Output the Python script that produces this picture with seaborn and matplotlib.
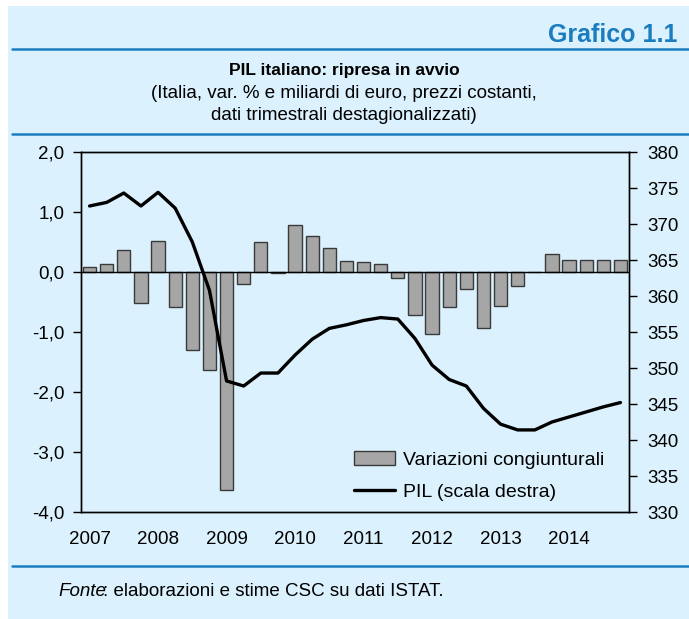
import numpy as np
import pandas as pd
import matplotlib
matplotlib.use('Agg')
import matplotlib.pyplot as plt
from matplotlib.ticker import FuncFormatter, MultipleLocator
from matplotlib.lines import Line2D
from matplotlib.patches import Rectangle
import seaborn as sns

# Dati trimestrali 2007-2014
anni = ['2007', '2008', '2009', '2010', '2011', '2012', '2013', '2014']
trimestri = [a + 'T' + str(q) for a in anni for q in (1, 2, 3, 4)]

# variazioni congiunturali (%)
var_cong = [0.08, 0.14, 0.36, -0.52,
            0.52, -0.58, -1.30, -1.64,
            -3.63, -0.20, 0.50, -0.02,
            0.78, 0.60, 0.40, 0.18,
            0.16, 0.14, -0.10, -0.72,
            -1.04, -0.58, -0.28, -0.94,
            -0.56, -0.24, 0.00, 0.30,
            0.20, 0.20, 0.20, 0.20]

# PIL, miliardi di euro (scala destra)
pil = [372.5, 373.0, 374.3, 372.5,
       374.4, 372.2, 367.5, 360.8,
       348.2, 347.5, 349.3, 349.3,
       351.8, 354.0, 355.5, 356.0,
       356.6, 357.0, 356.8, 354.1,
       350.4, 348.4, 347.5, 344.4,
       342.2, 341.4, 341.4, 342.5,
       343.2, 343.9, 344.6, 345.2]

df = pd.DataFrame({'trimestre': trimestri, 'var': var_cong, 'pil': pil})

sns.set_theme(style='white')
plt.rcParams['font.family'] = ['Liberation Sans', 'DejaVu Sans']
plt.rcParams['text.color'] = 'black'

bg = '#dbf1fd'
blu = '#1b7cc0'
W, H = 689, 619
fs = 13.5

fig = plt.figure(figsize=(W / 100, H / 100), dpi=100)
fig.patch.set_facecolor('white')
fig.patches.append(Rectangle((8 / W, 0), 1, 1 - 6 / H, transform=fig.transFigure,
                             facecolor=bg, edgecolor='none', zorder=-5))

# linee blu di separazione
for yy in (49, 134, 566):
    fig.add_artist(Line2D([12 / W, 1], [1 - yy / H, 1 - yy / H], transform=fig.transFigure,
                          color=blu, lw=1.8))

fig.text(678 / W, 1 - 35 / H, 'Grafico 1.1', ha='right', va='center',
         fontsize=18, fontweight='bold', color=blu)
fig.text(344 / W, 1 - 71 / H, 'PIL italiano: ripresa in avvio', ha='center', va='center',
         fontsize=12.5, fontweight='bold', color='black')
fig.text(344 / W, 1 - 94 / H, '(Italia, var. % e miliardi di euro, prezzi costanti,',
         ha='center', va='center', fontsize=fs, color='black')
fig.text(344 / W, 1 - 116 / H, 'dati trimestrali destagionalizzati)',
         ha='center', va='center', fontsize=fs, color='black')

# grafico
ax = fig.add_axes([81 / W, 1 - 512 / H, (629 - 81) / W, (512 - 152) / H])
ax.set_facecolor(bg)
sns.barplot(data=df, x='trimestre', y='var', color='#a6a6a6', edgecolor='#3a3a3a',
            linewidth=1, width=0.78, saturation=1, ax=ax)
ax.axhline(0, color='black', lw=1, zorder=1)
ax.set_ylim(-4, 2)
ax.set_xlim(-0.5, len(trimestri) - 0.5)
ax.yaxis.set_major_locator(MultipleLocator(1))
ax.yaxis.set_major_formatter(FuncFormatter(lambda v, p: f'{v:.1f}'.replace('.', ',')))
ax.set_xticks(range(0, len(trimestri), 4))
ax.set_xticklabels(anni)
ax.set_xlabel('')
ax.set_ylabel('')
ax.tick_params(axis='y', left=True, direction='out', length=6, width=1, color='black',
               labelsize=fs, pad=6, labelcolor='black')
ax.tick_params(axis='x', bottom=False, length=0, labelsize=fs, pad=14, labelcolor='black')

ax2 = ax.twinx()
sns.lineplot(x=df.index, y=df['pil'], color='black', linewidth=2.4, ax=ax2)
ax2.set_ylim(330, 380)
ax2.yaxis.set_major_locator(MultipleLocator(5))
ax2.set_ylabel('')
ax2.tick_params(axis='y', right=True, direction='out', length=6, width=1, color='black',
                labelsize=fs, pad=7, labelcolor='black')

for a in (ax, ax2):
    for s in a.spines.values():
        s.set_color('black')
        s.set_linewidth(1)

handles = [ax.containers[0], ax2.get_lines()[0]]
labels = ['Variazioni congiunturali', 'PIL (scala destra)']
fig.legend(handles, labels, loc='lower left', bbox_to_anchor=(354 / W, 1 - 501 / H),
           bbox_transform=fig.transFigure, frameon=False, fontsize=fs + 0.5,
           labelcolor='black', handlelength=2.1, handletextpad=0.4, labelspacing=0.75,
           borderpad=0, borderaxespad=0)

fig.text(58 / W, 1 - 592 / H, 'Fonte', ha='left', va='center', fontsize=fs,
         style='italic', color='black')
fig.text(103 / W, 1 - 592 / H, ': elaborazioni e stime CSC su dati ISTAT.', ha='left',
         va='center', fontsize=fs, color='black')

fig.savefig('out.png', dpi=100, facecolor=fig.get_facecolor())
